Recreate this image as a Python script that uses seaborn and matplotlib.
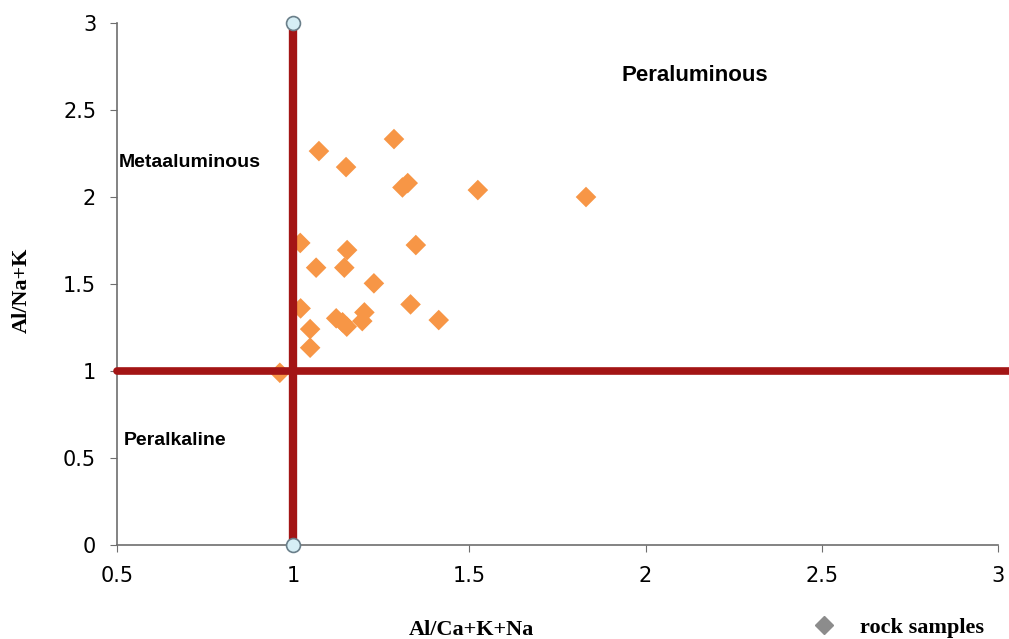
import matplotlib
matplotlib.use("Agg")
import matplotlib.pyplot as plt
import seaborn as sns
import pandas as pd
from matplotlib.lines import Line2D

# valores
al_cakna = [1.073, 1.150, 1.286, 1.310, 1.325, 1.524, 1.831,
            1.020, 1.153, 1.348, 1.065, 1.145, 1.229,
            1.021, 1.333, 1.413, 1.122, 1.140, 1.152,
            1.202, 1.196, 1.048, 1.048, 0.962]
al_nak = [2.264, 2.172, 2.333, 2.055, 2.080, 2.040, 2.000,
          1.736, 1.695, 1.724, 1.594, 1.594, 1.504,
          1.360, 1.383, 1.293, 1.303, 1.280, 1.255,
          1.337, 1.287, 1.241, 1.134, 0.990]

x_ticks = [0.5, 1, 1.5, 2, 2.5, 3]
y_ticks = [0, 0.5, 1, 1.5, 2, 2.5, 3]
regioes = ["Peraluminous", "Metaaluminous", "Peralkaline"]

df = pd.DataFrame({"x": al_cakna, "y": al_nak})

sns.set_style("white")
fig = plt.figure(figsize=(10.09, 6.39), dpi=100)
ax = fig.add_axes([0.116, 0.147, 0.873, 0.817])

sns.scatterplot(data=df, x="x", y="y", marker="D", s=110, color="#f79646",
                edgecolor="none", ax=ax, zorder=3, clip_on=False)

# linhas de separação (por cima dos pontos)
ax.plot([1, 1], [0, 3], color="#a31515", lw=6, zorder=4, solid_capstyle="butt",
        clip_on=False)
ax.plot([0.5, 3.04], [1, 1], color="#a31515", lw=5.5, zorder=4, clip_on=False)
ax.plot([1, 1], [0, 3], ls="none", marker="o", ms=10, mfc="#d6eef5",
        mec="#6a7f8a", mew=1.2, zorder=5, clip_on=False)

ax.set_xlim(0.5, 3)
ax.set_ylim(0, 3)
ax.set_xticks(x_ticks)
ax.set_xticklabels([f"{t:g}" for t in x_ticks])
ax.set_yticks(y_ticks)
ax.set_yticklabels([f"{t:g}" for t in y_ticks])

for s in ["top", "right"]:
    ax.spines[s].set_visible(False)
for s in ["left", "bottom"]:
    ax.spines[s].set_color("#6e6e6e")
    ax.spines[s].set_linewidth(1.2)
ax.tick_params(axis="both", direction="out", length=5, color="#6e6e6e",
               labelsize=15, pad=10, bottom=True, left=True, labelcolor="black")

ax.set_xlabel("")
ax.set_ylabel("")
fig.text(0.467, 0.014, "Al/Ca+K+Na", family="Liberation Serif", color="black",
         fontweight="bold", fontsize=16, ha="center", va="center")
fig.text(0.022, 0.545, "Al/Na+K", family="Liberation Serif", color="black",
         fontweight="bold", fontsize=16, ha="center", va="center", rotation=90)

ax.text(2.14, 2.70, regioes[0], fontweight="bold", fontsize=16, color="black",
        ha="center", va="center", family="Liberation Sans")
ax.text(0.505, 2.2, regioes[1], fontweight="bold", fontsize=14, color="black",
        ha="left", va="center", family="Liberation Sans")
ax.text(0.52, 0.6, regioes[2], fontweight="bold", fontsize=14, color="black",
        ha="left", va="center", family="Liberation Sans")

handle = Line2D([], [], ls="none", marker="D", ms=9, color="#8c8c8c")
fig.legend([handle], ["rock samples"], loc="center left",
           bbox_to_anchor=(0.775, 0.018), frameon=False, handletextpad=0.6,
           labelcolor="black",
           prop={"family": "Liberation Serif", "weight": "bold", "size": 16})

fig.savefig("out.png", dpi=100)
